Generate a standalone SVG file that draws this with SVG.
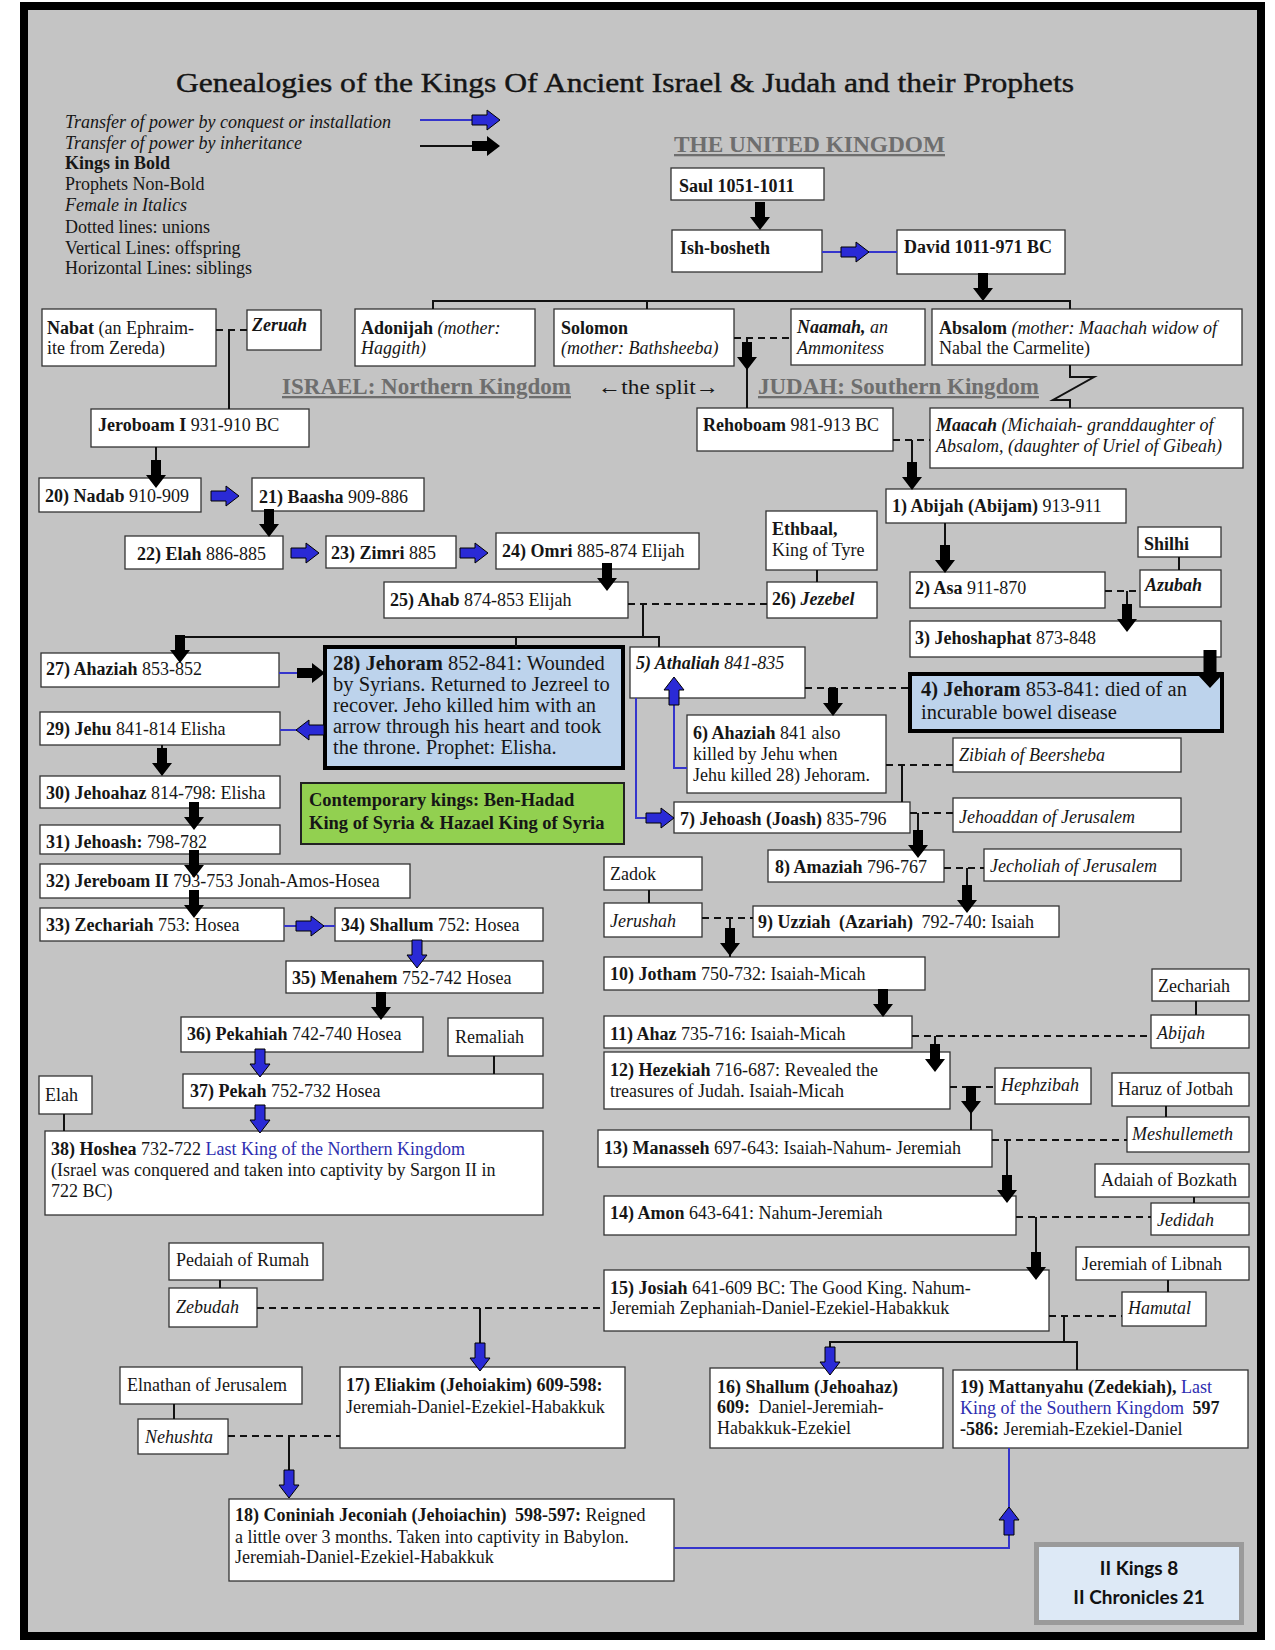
<svg xmlns="http://www.w3.org/2000/svg" xmlns:xlink="http://www.w3.org/1999/xlink" width="1275" height="1650" viewBox="0 0 1275 1650">
<style>
.bx{fill:#fff;stroke:#333;stroke-width:1.3}
.hb{fill:#bdd3ec;stroke:#000;stroke-width:4}
.gb{fill:#92d050;stroke:#222;stroke-width:2}
text{font-family:'Liberation Serif','Times New Roman',serif;font-size:18px;fill:#161616}
.b{font-weight:bold}
.i{font-style:italic}
.bi{font-weight:bold;font-style:italic}
.blt{fill:#2e2eb0}
.big{font-size:20.5px}
.hd{font-weight:bold;font-size:23px;fill:#6e6e6e;text-decoration:underline}
.ln{stroke:#111;stroke-width:2;fill:none}
.dl{stroke:#111;stroke-width:2;stroke-dasharray:7 5;fill:none}
.bln{stroke:#3535cc;stroke-width:2;fill:none}
.ab{fill:#000}
.au{fill:#2a2ad6;stroke:#000;stroke-width:1}
.ref{font-family:Lato,'Open Sans',sans-serif;font-weight:bold;font-size:19px;fill:#111}
</style>
<defs>
<path id="a" d="M-5,-28H5V-13H10L0,0L-10,-13H-5Z"/>
<path id="ag" d="M-6.5,-38H6.5V-13H12L0,0L-12,-13H-6.5Z"/>
</defs>
<rect width="1275" height="1650" fill="#fff"/>
<rect x="24" y="6" width="1237" height="1630" fill="#c4c4c4" stroke="#000" stroke-width="8"/>

<g id="title">
<text x="176" y="92" textLength="898" lengthAdjust="spacingAndGlyphs" style="font-size:28px" stroke="#111" stroke-width="0.4">Genealogies of the Kings Of Ancient Israel &amp; Judah and their Prophets</text>
</g>

<g id="legend">
<text class="i" x="65" y="128">Transfer of power by conquest or installation</text>
<text class="i" x="65" y="149">Transfer of power by inheritance</text>
<text class="b" x="65" y="169">Kings in Bold</text>
<text x="65" y="190">Prophets Non-Bold</text>
<text class="i" x="65" y="211">Female in Italics</text>
<text x="65" y="233">Dotted lines: unions</text>
<text x="65" y="254">Vertical Lines: offspring</text>
<text x="65" y="274">Horizontal Lines: siblings</text>
<path class="bln" d="M420,120H474"/>
<use xlink:href="#a" class="au" transform="translate(500,120) rotate(-90)"/>
<path class="ln" d="M420,146H474"/>
<use xlink:href="#a" class="ab" transform="translate(500,146) rotate(-90)"/>
</g>

<g id="headings">
<text class="hd" x="674" y="152" textLength="271" lengthAdjust="spacingAndGlyphs">THE UNITED KINGDOM</text>
<text class="hd" x="282" y="394" textLength="289" lengthAdjust="spacingAndGlyphs">ISRAEL: Northern Kingdom</text>
<text class="hd" x="758" y="394" textLength="281" lengthAdjust="spacingAndGlyphs">JUDAH: Southern Kingdom</text>
<text x="598" y="394" style="font-size:21px" textLength="121" lengthAdjust="spacingAndGlyphs">←the split→</text>
</g>

<g id="saul"><rect class="bx" x="671" y="168" width="153" height="32"/><text class="b" x="679" y="192">Saul 1051-1011</text></g>
<g id="ishbosheth"><rect class="bx" x="672" y="230" width="150" height="42"/><text class="b" x="680" y="254">Ish-bosheth</text></g>
<g id="david"><rect class="bx" x="897" y="230" width="168" height="44"/><text class="b" x="904" y="253">David 1011-971 BC</text></g>
<g id="nabat"><rect class="bx" x="42" y="309" width="174" height="57"/><text x="47" y="334"><tspan class="b">Nabat</tspan> (an Ephraim-</text><text x="47" y="354">ite from Zereda)</text></g>
<g id="zeruah"><rect class="bx" x="247" y="310" width="74" height="40"/><text class="bi" x="252" y="331">Zeruah</text></g>
<g id="adonijah"><rect class="bx" x="355" y="309" width="180" height="57"/><text x="361" y="334"><tspan class="b">Adonijah</tspan> <tspan class="i">(mother:</tspan></text><text class="i" x="361" y="354">Haggith)</text></g>
<g id="solomon"><rect class="bx" x="554" y="309" width="180" height="57"/><text class="b" x="561" y="334">Solomon</text><text class="i" x="561" y="354">(mother: Bathsheeba)</text></g>
<g id="naamah"><rect class="bx" x="791" y="309" width="134" height="56"/><text x="797" y="333"><tspan class="bi">Naamah,</tspan><tspan class="i"> an</tspan></text><text class="i" x="797" y="354">Ammonitess</text></g>
<g id="absalom"><rect class="bx" x="932" y="309" width="310" height="56"/><text x="939" y="334"><tspan class="b">Absalom</tspan> <tspan class="i">(mother: Maachah widow of</tspan></text><text x="939" y="354">Nabal the Carmelite)</text></g>
<g id="jeroboam"><rect class="bx" x="91" y="409" width="218" height="38"/><text x="98" y="431"><tspan class="b">Jeroboam I</tspan> 931-910 BC</text></g>
<g id="rehoboam"><rect class="bx" x="697" y="408" width="196" height="43"/><text x="703" y="431"><tspan class="b">Rehoboam</tspan> 981-913 BC</text></g>
<g id="maacah"><rect class="bx" x="930" y="408" width="313" height="60"/><text x="936" y="431"><tspan class="bi">Maacah</tspan><tspan class="i"> (Michaiah- granddaughter of</tspan></text><text class="i" x="936" y="452">Absalom, (daughter of Uriel of Gibeah)</text></g>
<g id="nadab"><rect class="bx" x="39" y="478" width="162" height="34"/><text x="45" y="502"><tspan class="b">20) Nadab</tspan> 910-909</text></g>
<g id="baasha"><rect class="bx" x="252" y="478" width="172" height="33"/><text x="259" y="503"><tspan class="b">21) Baasha</tspan> 909-886</text></g>
<g id="elah"><rect class="bx" x="125" y="536" width="158" height="33"/><text x="137" y="560"><tspan class="b">22) Elah</tspan> 886-885</text></g>
<g id="zimri"><rect class="bx" x="326" y="536" width="130" height="32"/><text x="331" y="559"><tspan class="b">23) Zimri</tspan> 885</text></g>
<g id="omri"><rect class="bx" x="496" y="533" width="203" height="36"/><text x="502" y="557"><tspan class="b">24) Omri</tspan> 885-874 Elijah</text></g>
<g id="ahab"><rect class="bx" x="384" y="582" width="244" height="36"/><text x="390" y="606"><tspan class="b">25) Ahab</tspan> 874-853 Elijah</text></g>
<g id="ethbaal"><rect class="bx" x="766" y="511" width="111" height="59"/><text class="b" x="772" y="535">Ethbaal,</text><text x="772" y="556">King of Tyre</text></g>
<g id="jezebel"><rect class="bx" x="767" y="582" width="110" height="36"/><text x="772" y="605"><tspan class="b">26) </tspan><tspan class="bi">Jezebel</tspan></text></g>
<g id="abijah1"><rect class="bx" x="886" y="489" width="240" height="34"/><text x="892" y="512"><tspan class="b">1) Abijah (Abijam)</tspan> 913-911</text></g>
<g id="shilhi"><rect class="bx" x="1138" y="527" width="83" height="30"/><text class="b" x="1144" y="550">Shilhi</text></g>
<g id="azubah"><rect class="bx" x="1140" y="570" width="81" height="37"/><text class="bi" x="1145" y="591">Azubah</text></g>
<g id="asa"><rect class="bx" x="910" y="572" width="195" height="36"/><text x="915" y="594"><tspan class="b">2) Asa</tspan> 911-870</text></g>
<g id="jehoshaphat"><rect class="bx" x="910" y="621" width="311" height="36"/><text x="915" y="644"><tspan class="b">3) Jehoshaphat</tspan> 873-848</text></g>
<g id="ahaziah27"><rect class="bx" x="41" y="653" width="238" height="34"/><text x="46" y="675"><tspan class="b">27) Ahaziah</tspan> 853-852</text></g>
<g id="jehoram28"><rect class="hb" x="325" y="647" width="298" height="121"/>
<text class="big" x="333" y="670"><tspan class="b">28) Jehoram</tspan> 852-841: Wounded</text>
<text class="big" x="333" y="691">by Syrians. Returned to Jezreel to</text>
<text class="big" x="333" y="712">recover. Jeho killed him with an</text>
<text class="big" x="333" y="733">arrow through his heart and took</text>
<text class="big" x="333" y="754">the throne. Prophet: Elisha.</text></g>
<g id="athaliah"><rect class="bx" x="630" y="647" width="175" height="51"/><text x="636" y="669"><tspan class="bi">5) Athaliah</tspan><tspan class="i"> 841-835</tspan></text></g>
<g id="jehoram4"><rect class="hb" x="910" y="674" width="312" height="57"/><text class="big" x="921" y="696"><tspan class="b">4) Jehoram</tspan> 853-841: died of an</text><text class="big" x="921" y="719">incurable bowel disease</text></g>
<g id="jehu"><rect class="bx" x="40" y="712" width="240" height="33"/><text x="46" y="735"><tspan class="b">29) Jehu</tspan> 841-814 Elisha</text></g>
<g id="ahaziah6"><rect class="bx" x="687" y="715" width="199" height="78"/><text x="693" y="739"><tspan class="b">6) Ahaziah</tspan> 841 also</text><text x="693" y="760">killed by Jehu when</text><text x="693" y="781">Jehu killed 28) Jehoram.</text></g>
<g id="zibiah"><rect class="bx" x="953" y="738" width="228" height="34"/><text class="i" x="959" y="761">Zibiah of Beersheba</text></g>
<g id="jehoahaz30"><rect class="bx" x="40" y="776" width="240" height="32"/><text x="46" y="799"><tspan class="b">30) Jehoahaz</tspan> 814-798: Elisha</text></g>
<g id="contemporary"><rect class="gb" x="301" y="783" width="323" height="61"/><text class="b" x="309" y="806" style="font-size:18.5px">Contemporary kings: Ben-Hadad</text><text class="b" x="309" y="829" style="font-size:18.5px">King of Syria &amp; Hazael King of Syria</text></g>
<g id="jehoash7"><rect class="bx" x="674" y="802" width="236" height="31"/><text x="680" y="825"><tspan class="b">7) Jehoash (Joash)</tspan> 835-796</text></g>
<g id="jehoaddan"><rect class="bx" x="953" y="798" width="228" height="34"/><text class="i" x="959" y="823">Jehoaddan of Jerusalem</text></g>
<g id="jehoash31"><rect class="bx" x="40" y="825" width="240" height="29"/><text x="46" y="848"><tspan class="b">31) Jehoash:</tspan> 798-782</text></g>
<g id="zadok"><rect class="bx" x="604" y="857" width="98" height="33"/><text x="610" y="880">Zadok</text></g>
<g id="amaziah"><rect class="bx" x="768" y="850" width="176" height="32"/><text x="775" y="873"><tspan class="b">8) Amaziah</tspan> 796-767</text></g>
<g id="jecholiah"><rect class="bx" x="984" y="849" width="197" height="32"/><text class="i" x="990" y="872">Jecholiah of Jerusalem</text></g>
<g id="jereboam2"><rect class="bx" x="40" y="864" width="370" height="34"/><text x="46" y="887"><tspan class="b">32) Jereboam II</tspan> 793-753 Jonah-Amos-Hosea</text></g>
<g id="jerushah"><rect class="bx" x="604" y="903" width="98" height="34"/><text class="i" x="610" y="927">Jerushah</text></g>
<g id="zechariah33"><rect class="bx" x="40" y="908" width="244" height="33"/><text x="46" y="931"><tspan class="b">33) Zechariah</tspan> 753: Hosea</text></g>
<g id="shallum34"><rect class="bx" x="335" y="908" width="208" height="33"/><text x="341" y="931"><tspan class="b">34) Shallum</tspan> 752: Hosea</text></g>
<g id="uzziah"><rect class="bx" x="753" y="906" width="306" height="31"/><text x="758" y="928"><tspan class="b">9) Uzziah <tspan dx="4">(Azariah)</tspan></tspan><tspan dx="4"> 792-740: Isaiah</tspan></text></g>
<g id="menahem"><rect class="bx" x="286" y="961" width="257" height="32"/><text x="292" y="984"><tspan class="b">35) Menahem</tspan> 752-742 Hosea</text></g>
<g id="jotham"><rect class="bx" x="604" y="957" width="321" height="33"/><text x="610" y="980"><tspan class="b">10) Jotham</tspan> 750-732: Isaiah-Micah</text></g>
<g id="zechariahJ"><rect class="bx" x="1152" y="969" width="97" height="32"/><text x="1158" y="992">Zechariah</text></g>
<g id="pekahiah"><rect class="bx" x="181" y="1017" width="242" height="35"/><text x="187" y="1040"><tspan class="b">36) Pekahiah</tspan> 742-740 Hosea</text></g>
<g id="remaliah"><rect class="bx" x="448" y="1018" width="95" height="38"/><text x="455" y="1043">Remaliah</text></g>
<g id="ahaz"><rect class="bx" x="604" y="1016" width="308" height="32"/><text x="610" y="1040"><tspan class="b">11) Ahaz</tspan> 735-716: Isaiah-Micah</text></g>
<g id="abijahJ"><rect class="bx" x="1151" y="1015" width="98" height="33"/><text class="i" x="1157" y="1039">Abijah</text></g>
<g id="hezekiah"><rect class="bx" x="604" y="1052" width="346" height="57"/><text x="610" y="1076"><tspan class="b">12) Hezekiah</tspan> 716-687: Revealed the</text><text x="610" y="1097">treasures of Judah. Isaiah-Micah</text></g>
<g id="hephzibah"><rect class="bx" x="995" y="1068" width="96" height="36"/><text class="i" x="1001" y="1091">Hephzibah</text></g>
<g id="haruz"><rect class="bx" x="1112" y="1073" width="137" height="33"/><text x="1118" y="1095">Haruz of Jotbah</text></g>
<g id="pekah"><rect class="bx" x="183" y="1074" width="360" height="34"/><text x="190" y="1097"><tspan class="b">37) Pekah</tspan> 752-732 Hosea</text></g>
<g id="elahS"><rect class="bx" x="39" y="1076" width="53" height="38"/><text x="45" y="1101">Elah</text></g>
<g id="meshullemeth"><rect class="bx" x="1127" y="1117" width="122" height="35"/><text class="i" x="1132" y="1140">Meshullemeth</text></g>
<g id="manasseh"><rect class="bx" x="598" y="1130" width="394" height="37"/><text x="604" y="1154"><tspan class="b">13) Manasseh</tspan> 697-643: Isaiah-Nahum- Jeremiah</text></g>
<g id="hoshea"><rect class="bx" x="45" y="1131" width="498" height="84"/><text x="51" y="1155"><tspan class="b">38) Hoshea</tspan> 732-722 <tspan class="blt">Last King of the Northern Kingdom</tspan></text><text x="51" y="1176">(Israel was conquered and taken into captivity by Sargon II in</text><text x="51" y="1197">722 BC)</text></g>
<g id="adaiah"><rect class="bx" x="1095" y="1164" width="154" height="33"/><text x="1101" y="1186">Adaiah of Bozkath</text></g>
<g id="amon"><rect class="bx" x="604" y="1196" width="412" height="39"/><text x="610" y="1219"><tspan class="b">14) Amon</tspan> 643-641: Nahum-Jeremiah</text></g>
<g id="jedidah"><rect class="bx" x="1151" y="1203" width="98" height="32"/><text class="i" x="1157" y="1226">Jedidah</text></g>
<g id="pedaiah"><rect class="bx" x="169" y="1243" width="154" height="37"/><text x="176" y="1266">Pedaiah of Rumah</text></g>
<g id="jeremiahL"><rect class="bx" x="1076" y="1247" width="173" height="33"/><text x="1082" y="1270">Jeremiah of Libnah</text></g>
<g id="josiah"><rect class="bx" x="604" y="1270" width="445" height="61"/><text x="610" y="1294"><tspan class="b">15) Josiah</tspan> 641-609 BC: The Good King. Nahum-</text><text x="610" y="1314">Jeremiah Zephaniah-Daniel-Ezekiel-Habakkuk</text></g>
<g id="zebudah"><rect class="bx" x="169" y="1288" width="88" height="39"/><text class="i" x="176" y="1313">Zebudah</text></g>
<g id="hamutal"><rect class="bx" x="1122" y="1292" width="84" height="34"/><text class="i" x="1128" y="1314">Hamutal</text></g>
<g id="elnathan"><rect class="bx" x="120" y="1367" width="182" height="37"/><text x="127" y="1391">Elnathan of Jerusalem</text></g>
<g id="eliakim"><rect class="bx" x="340" y="1367" width="285" height="81"/><text class="b" x="346" y="1391">17) Eliakim (Jehoiakim) 609-598:</text><text x="346" y="1413">Jeremiah-Daniel-Ezekiel-Habakkuk</text></g>
<g id="shallum16"><rect class="bx" x="710" y="1368" width="233" height="80"/><text class="b" x="717" y="1393">16) Shallum (Jehoahaz)</text><text x="717" y="1413"><tspan class="b">609:</tspan><tspan dx="4"> Daniel-Jeremiah-</tspan></text><text x="717" y="1434">Habakkuk-Ezekiel</text></g>
<g id="mattanyahu"><rect class="bx" x="953" y="1370" width="295" height="78"/><text x="960" y="1393"><tspan class="b">19) Mattanyahu (Zedekiah),</tspan> <tspan class="blt">Last</tspan></text><text x="960" y="1414"><tspan class="blt">King of the Southern Kingdom</tspan><tspan class="b" dx="4"> 597</tspan></text><text x="960" y="1435"><tspan class="b">-586:</tspan> Jeremiah-Ezekiel-Daniel</text></g>
<g id="nehushta"><rect class="bx" x="138" y="1419" width="90" height="35"/><text class="i" x="145" y="1443">Nehushta</text></g>
<g id="coniniah"><rect class="bx" x="229" y="1499" width="445" height="82"/><text x="235" y="1521"><tspan class="b">18) Coniniah Jeconiah (Jehoiachin) <tspan dx="4">598-597:</tspan></tspan> Reigned</text><text x="235" y="1543">a little over 3 months. Taken into captivity in Babylon.</text><text x="235" y="1563">Jeremiah-Daniel-Ezekiel-Habakkuk</text></g>
<g id="reference"><rect x="1036.5" y="1544.5" width="205" height="78" fill="#dde9f6" stroke="#9a9a9a" stroke-width="5"/><text class="ref" x="1139" y="1575" text-anchor="middle">II Kings 8</text><text class="ref" x="1139" y="1604" text-anchor="middle">II Chronicles 21</text></g>

<g id="connectors">
<use xlink:href="#a" class="ab" transform="translate(760,230)"/>
<path class="bln" d="M822,252H897"/>
<use xlink:href="#a" class="au" transform="translate(869,252) rotate(-90)"/>
<use xlink:href="#a" class="ab" transform="translate(983,301)"/>
<path class="ln" d="M433,309V301H1070V309M647,301V309"/>
<path class="dl" d="M216,330H247"/>
<path class="ln" d="M229,330V409"/>
<path class="dl" d="M734,338H791"/>
<path class="ln" d="M747,338V408"/>
<use xlink:href="#a" class="ab" transform="translate(747,370)"/>
<path class="ln" d="M1070,365V377H1094L1053,400H1070V408"/>
<path class="dl" d="M893,440H930"/>
<path class="ln" d="M912,440V465"/>
<use xlink:href="#a" class="ab" transform="translate(912,490)"/>
<path class="ln" d="M156,447V462"/>
<use xlink:href="#a" class="ab" transform="translate(156,488)"/>
<use xlink:href="#a" class="au" transform="translate(239,496) rotate(-90)"/>
<use xlink:href="#a" class="ab" transform="translate(269,537)"/>
<use xlink:href="#a" class="au" transform="translate(319,553) rotate(-90)"/>
<use xlink:href="#a" class="au" transform="translate(488,553) rotate(-90)"/>
<use xlink:href="#a" class="ab" transform="translate(607,591)"/>
<path class="dl" d="M628,604H767"/>
<path class="ln" d="M643,604V637M180,637H659V647M516,637V647M817,570V582"/>
<use xlink:href="#a" class="ab" transform="translate(180,663)"/>
<path class="bln" d="M279,673H299"/>
<use xlink:href="#a" class="ab" transform="translate(325,673) rotate(-90)"/>
<path class="bln" d="M280,730H298"/>
<use xlink:href="#a" class="au" transform="translate(296,730) rotate(90)"/>
<path class="ln" d="M162,745V750"/>
<use xlink:href="#a" class="ab" transform="translate(162,776)"/>
<use xlink:href="#a" class="ab" transform="translate(194,830)"/>
<use xlink:href="#a" class="ab" transform="translate(194,878)"/>
<use xlink:href="#a" class="ab" transform="translate(194,918)"/>
<path class="bln" d="M284,926H335"/>
<use xlink:href="#a" class="au" transform="translate(324,926) rotate(-90)"/>
<use xlink:href="#a" class="au" transform="translate(417,968)"/>
<use xlink:href="#a" class="ab" transform="translate(381,1020)"/>
<use xlink:href="#a" class="au" transform="translate(260,1077)"/>
<path class="ln" d="M494,1056V1074M64,1114V1131"/>
<use xlink:href="#a" class="au" transform="translate(260,1133)"/>
<path class="ln" d="M945,523V547M1179,557V570"/>
<use xlink:href="#a" class="ab" transform="translate(945,573)"/>
<path class="dl" d="M1105,591H1140"/>
<path class="ln" d="M1127,591V606"/>
<use xlink:href="#a" class="ab" transform="translate(1127,632)"/>
<use xlink:href="#ag" class="ab" transform="translate(1210,688)"/>
<path class="dl" d="M805,688H910"/>
<use xlink:href="#a" class="ab" transform="translate(833,716)"/>
<path class="bln" d="M687,768H674V700"/>
<use xlink:href="#a" class="au" transform="translate(674,677) rotate(180)"/>
<path class="bln" d="M636,698V818H650"/>
<use xlink:href="#a" class="au" transform="translate(674,818) rotate(-90)"/>
<path class="dl" d="M886,765H953"/>
<path class="ln" d="M902,765V802"/>
<path class="dl" d="M910,813H953"/>
<path class="ln" d="M918,813V834"/>
<use xlink:href="#a" class="ab" transform="translate(918,858)"/>
<path class="dl" d="M944,868H984"/>
<path class="ln" d="M967,868V888"/>
<use xlink:href="#a" class="ab" transform="translate(967,913)"/>
<path class="ln" d="M649,890V903"/>
<path class="dl" d="M702,918H753"/>
<path class="ln" d="M730,918V957"/>
<use xlink:href="#a" class="ab" transform="translate(730,956)"/>
<use xlink:href="#a" class="ab" transform="translate(883,1017)"/>
<path class="ln" d="M1196,1001V1015"/>
<path class="dl" d="M912,1036H1151"/>
<path class="ln" d="M935,1036V1048"/>
<use xlink:href="#a" class="ab" transform="translate(935,1072)"/>
<path class="dl" d="M950,1087H995"/>
<path class="ln" d="M971,1087V1130M1166,1106V1117"/>
<use xlink:href="#a" class="ab" transform="translate(971,1114)"/>
<path class="dl" d="M992,1140H1127"/>
<path class="ln" d="M1007,1140V1180M1194,1197V1203"/>
<use xlink:href="#a" class="ab" transform="translate(1007,1203)"/>
<path class="dl" d="M1016,1217H1151"/>
<path class="ln" d="M1036,1217V1256M1168,1280V1292"/>
<use xlink:href="#a" class="ab" transform="translate(1036,1280)"/>
<path class="dl" d="M1049,1316H1122"/>
<path class="ln" d="M1064,1316V1342M830,1350V1342H1077V1370"/>
<use xlink:href="#a" class="au" transform="translate(830,1375)"/>
<path class="ln" d="M220,1280V1288"/>
<path class="dl" d="M257,1308H604"/>
<path class="ln" d="M480,1308V1346"/>
<use xlink:href="#a" class="au" transform="translate(480,1371)"/>
<path class="ln" d="M174,1404V1419"/>
<path class="dl" d="M228,1436H340"/>
<path class="ln" d="M289,1436V1472"/>
<use xlink:href="#a" class="au" transform="translate(289,1498)"/>
<path class="bln" d="M674,1548H1009V1448"/>
<use xlink:href="#a" class="au" transform="translate(1009,1507) rotate(180)"/>
</g>
</svg>
